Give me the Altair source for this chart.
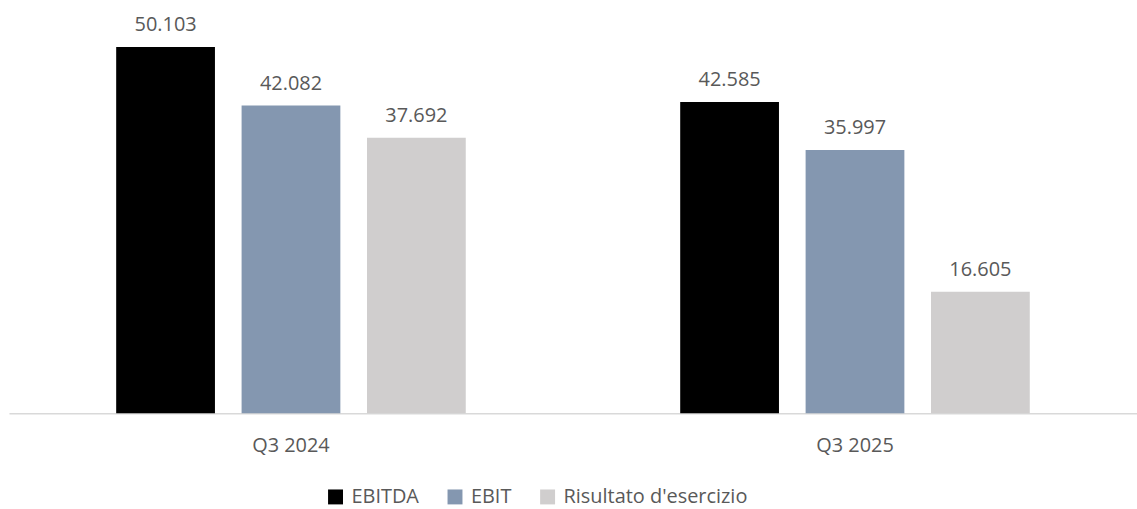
import altair as alt
import pandas as pd

periods = ["Q3 2024", "Q3 2025"]
series = ["EBITDA", "EBIT", "Risultato d'esercizio"]
colors = ["#000000", "#8497B0", "#D0CECE"]
values = {
    "EBITDA": [50103, 42585],
    "EBIT": [42082, 35997],
    "Risultato d'esercizio": [37692, 16605],
}

rows = []
for s in series:
    for p, v in zip(periods, values[s]):
        rows.append({"period": p, "series": s, "value": v,
                     "label": f"{v:,}".replace(",", ".")})
df = pd.DataFrame(rows)

FONT = "Open Sans"
TXT = "#595959"

base = alt.Chart(df).encode(
    x=alt.X("period:N", sort=periods,
            scale=alt.Scale(paddingInner=0, paddingOuter=0),
            axis=alt.Axis(title=None, labelAngle=0, ticks=False,
                          labelFont=FONT, labelFontSize=20, labelColor=TXT,
                          labelPadding=22, domainColor="#D9D9D9",
                          domainWidth=1.5, grid=False)),
    xOffset=alt.XOffset("series:N", sort=series,
                        scale=alt.Scale(paddingInner=0.2124, paddingOuter=0.855)),
    y=alt.Y("value:Q", scale=alt.Scale(domain=[0, 56366], nice=False, zero=True),
            axis=None),
)

bars = base.mark_bar().encode(
    color=alt.Color("series:N", sort=series,
                    scale=alt.Scale(domain=series, range=colors),
                    legend=alt.Legend(title=None, orient="none", direction="horizontal",
                                      legendX=318, legendY=488, padding=0,
                                      symbolType="square", symbolSize=225,
                                      symbolStrokeWidth=0, symbolOpacity=1,
                                      labelFont=FONT, labelFontSize=20,
                                      labelColor=TXT, labelOffset=6,
                                      columnPadding=26, labelLimit=400)),
)

labels = base.mark_text(font=FONT, fontSize=20, color=TXT,
                        baseline="alphabetic", dy=-16).encode(text="label:N")

chart = alt.layer(bars, labels).properties(
    width=1133, height=414,
    background="white",
    autosize=alt.AutoSizeParams(type="none"),
    padding={"left": 9, "top": 0, "right": 0, "bottom": 95},
).configure_view(stroke=None)

chart.save("out.html", embed_options={"renderer": "svg", "actions": False})
